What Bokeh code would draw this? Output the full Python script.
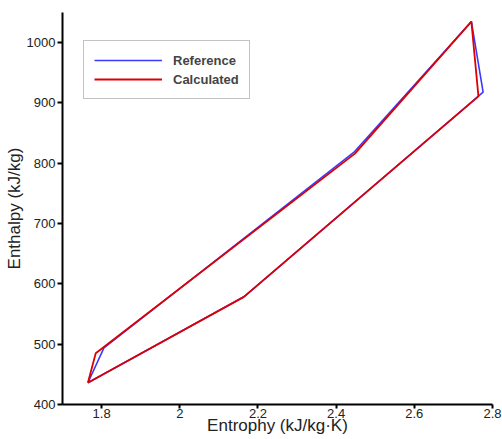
from bokeh.plotting import figure
from bokeh.models import Range1d, FixedTicker, Legend, LegendItem
from bokeh.embed import file_html
from bokeh.resources import INLINE

# Reference cycle (blue)
ref_s = [1.765, 1.806, 2.445, 2.746, 2.776, 2.165, 1.765]
ref_h = [436, 494, 818, 1035, 918, 579, 436]
# Calculated cycle (red)
calc_s = [1.765, 1.785, 2.448, 2.746, 2.764, 2.163, 1.765]
calc_h = [436, 485, 816, 1035, 911, 578, 436]

x_ticks = [1.8, 2.0, 2.2, 2.4, 2.6, 2.8]
x_tick_labels = {1.8: "1.8", 2.0: "2", 2.2: "2.2", 2.4: "2.4", 2.6: "2.6", 2.8: "2.8"}
y_ticks = [400, 500, 600, 700, 800, 900, 1000]
x_title = "Entrophy (kJ/kg·K)"
y_title = "Enthalpy (kJ/kg)"

p = figure(width=502, height=439, output_backend="svg", toolbar_location=None,
           x_range=Range1d(1.7, 2.8), y_range=Range1d(400, 1050),
           min_border_left=62, min_border_top=12, min_border_right=10, min_border_bottom=35)
p.outline_line_color = None
p.grid.visible = False

font = "Liberation Sans"
for ax in (p.xaxis[0], p.yaxis[0]):
    ax.axis_line_width = 2
    ax.axis_line_color = "black"
    ax.major_tick_line_width = 2
    ax.major_tick_line_color = "black"
    ax.minor_tick_line_color = None
    ax.major_tick_in = 0
    ax.major_tick_out = 5
    ax.major_label_standoff = 2
    ax.major_label_text_font = font
    ax.major_label_text_font_size = "13px"
    ax.major_label_text_color = "#222222"
    ax.axis_label_text_font = font
    ax.axis_label_text_font_style = "normal"
    ax.axis_label_text_color = "#222222"

p.xaxis.ticker = FixedTicker(ticks=x_ticks)
p.xaxis.major_label_overrides = x_tick_labels
p.xaxis.major_tick_out = 4
p.xaxis.major_label_standoff = 0
p.xaxis.axis_label = x_title
p.xaxis.axis_label_text_font_size = "17px"
p.xaxis.axis_label_standoff = -5
p.yaxis.ticker = FixedTicker(ticks=y_ticks)
p.yaxis.axis_label = y_title
p.yaxis.axis_label_text_font_size = "17px"
p.yaxis.axis_label_standoff = 0

r1 = p.line(ref_s, ref_h, line_color="#3a3aff", line_width=1.6)
r2 = p.line(calc_s, calc_h, line_color="#dd0000", line_width=1.8)

legend = Legend(items=[LegendItem(label="Reference", renderers=[r1]),
                       LegendItem(label="Calculated", renderers=[r2])],
                location=(21, 305))
legend.label_text_font = font
legend.label_text_font_size = "13px"
legend.label_text_font_style = "bold"
legend.label_standoff = 11
legend.glyph_width = 68
legend.glyph_height = 18
legend.label_height = 18
legend.spacing = 1
legend.padding = 10
legend.margin = 0
legend.border_line_color = "#888888"
legend.border_line_width = 1
p.add_layout(legend, "center")

open("out.html", "w").write(file_html(p, INLINE))
